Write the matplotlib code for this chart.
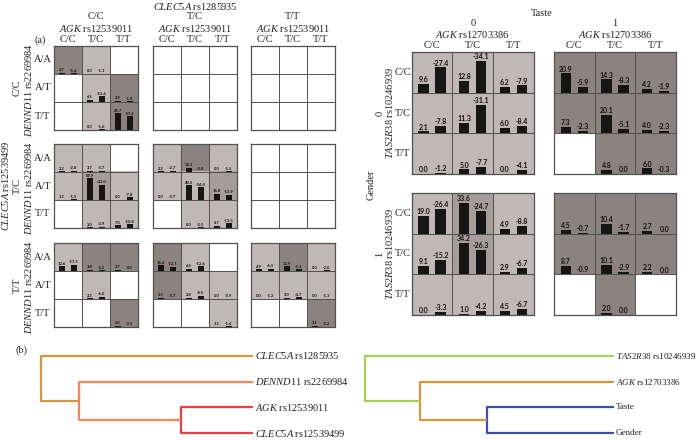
import numpy as np
import matplotlib
matplotlib.use('Agg')
import matplotlib.pyplot as plt
from matplotlib.colors import ListedColormap

nan = np.nan
W, H = 700, 440

genotypes = ['C/C', 'T/C', 'T/T']
dennd_genotypes = ['A/A', 'A/T', 'T/T']
binary_levels = ['0', '1']

# ---------------- panel (a), left: CLEC5A rs12539499 (rows) x CLEC5A rs1285935 (cols)
# shade: 0 white, 1 light, 2 medium, 3 dark
cc_cc_shade = [[3, 1, 0], [0, 1, 3], [0, 1, 3]]
cc_cc_v1 = [[2.7, 0.0, nan], [nan, 6.5, 2.9], [nan, 0.0, 45.7]]
cc_cc_v2 = [[-1.4, -1.1, nan], [nan, -15.6, -1.9], [nan, -1.6, -37.6]]

tc_cc_shade = [[1, 1, 0], [1, 2, 1], [0, 1, 1]]
tc_cc_v1 = [[2.2, 3.7, nan], [1.1, 59.9, 0.0], [nan, 2.0, 7.0]]
tc_cc_v2 = [[-2.8, -3.7, nan], [-1.5, -42.0, -7.8], [nan, -2.9, -10.8]]

tc_tc_shade = [[1, 3, 1], [1, 1, 2], [0, 1, 1]]
tc_tc_v1 = [[2.2, 12.1, 0.0], [0.0, 40.5, 16.8], [nan, 0.0, 6.7]]
tc_tc_v2 = [[-2.7, -0.8, -1.5], [-0.7, -34.8, -13.9], [nan, -2.5, -13.5]]

tt_cc_shade = [[1, 3, 3], [0, 1, 0], [0, 0, 3]]
tt_cc_v1 = [[12.6, 3.8, 2.7], [nan, 2.2, nan], [nan, nan, 3.0]]
tt_cc_v2 = [[-17.5, -2.2, 0.0], [nan, -6.0, nan], [nan, nan, -0.5]]

tt_tc_shade = [[3, 1, 0], [3, 1, 1], [0, 0, 1]]
tt_tc_v1 = [[16.4, 6.5, nan], [3.5, 2.8, 0.0], [nan, nan, 1.1]]
tt_tc_v2 = [[-12.1, -12.6, nan], [-0.7, -8.5, -0.9], [nan, nan, -1.6]]

tt_tt_shade = [[1, 3, 1], [1, 1, 1], [0, 0, 3]]
tt_tt_v1 = [[4.9, 12.9, 0.0], [0.0, 3.0, 0.0], [nan, nan, 3.1]]
tt_tt_v2 = [[-6.5, -5.1, -2.0], [-1.2, -4.7, -1.3], [nan, nan, -0.2]]

# ---------------- panel (a), right: Gender (rows) x Taste (cols)
g0_t0_shade = [[1, 1, 1], [1, 1, 1], [1, 1, 1]]
g0_t0_v1 = [[9.6, 12.8, 6.2], [2.1, 11.3, 6.0], [0.0, 5.0, 0.0]]
g0_t0_v2 = [[-27.4, -34.1, -7.9], [-7.8, -31.1, -8.4], [-1.2, -7.7, -4.1]]

g0_t1_shade = [[3, 3, 3], [3, 3, 3], [0, 3, 3]]
g0_t1_v1 = [[20.9, 14.3, 4.2], [7.3, 20.1, 4.0], [nan, 4.8, 6.0]]
g0_t1_v2 = [[-5.9, -8.3, -1.9], [-2.3, -5.1, -2.3], [nan, 0.0, -0.3]]

g1_t0_shade = [[1, 2, 1], [1, 2, 1], [1, 1, 1]]
g1_t0_v1 = [[19.0, 33.6, 4.9], [9.1, 34.2, 2.9], [0.0, 1.0, 4.5]]
g1_t0_v2 = [[-26.4, -24.7, -8.8], [-15.2, -26.3, -6.7], [-3.3, -4.2, -6.7]]

g1_t1_shade = [[3, 3, 3], [3, 3, 3], [0, 3, 0]]
g1_t1_v1 = [[4.5, 10.4, 2.7], [8.7, 10.1, 2.2], [nan, 2.0, nan]]
g1_t1_v2 = [[-0.7, -1.7, 0.0], [-0.9, -2.9, 0.0], [nan, 0.0, nan]]

# ---------------- panel (b): dendrograms
left_leaves = [r'$\mathit{CLEC5A}\ \mathrm{rs1285935}$', r'$\mathit{DENND11}\ \mathrm{rs2269984}$',
               r'$\mathit{AGK}\ \mathrm{rs12539011}$', r'$\mathit{CLEC5A}\ \mathrm{rs12539499}$']
left_merges = [(2, 3, 0.34), (1, 4, 0.82), (0, 5, 1.0)]
left_colors = ['#f03c3c', '#f4845e', '#d8963c']

right_leaves = [r'$\mathit{TAS2R38}\ \mathrm{rs10246939}$', r'$\mathit{AGK}\ \mathrm{rs12703386}$',
                'Taste', 'Gender']
right_merges = [(2, 3, 0.51), (1, 4, 0.78), (0, 5, 1.0)]
right_colors = ['#3c4fb0', '#d8963c', '#a8cf5a']

# ---------------- style
plt.rcParams['font.family'] = ['Liberation Serif', 'DejaVu Serif']
plt.rcParams['mathtext.fontset'] = 'custom'
plt.rcParams['mathtext.it'] = 'Liberation Serif:italic'
plt.rcParams['mathtext.rm'] = 'Liberation Serif'
TXT = '#222222'
GRIDC = '#505050'
cmap = ListedColormap(['#ffffff', '#bfb8b6', '#a69d9b', '#8c8381'])

fig = plt.figure(figsize=(7, 4.4), dpi=100)


def px_axes(x0, y0, x1, y1):
    return fig.add_axes([x0 / W, 1 - y1 / H, (x1 - x0) / W, (y1 - y0) / H])


def ftext(x, y, s, **kw):
    kw.setdefault('color', TXT)
    kw.setdefault('ha', 'center')
    kw.setdefault('va', 'center')
    fig.text(x / W, 1 - y / H, s, **kw)


def draw_grid(x0, y0, size, shade, v1, v2, vmax, fs, bw):
    ax = px_axes(x0, y0, x0 + size, y0 + size)
    sh = np.array(shade)
    a1 = np.array(v1, float)
    a2 = np.array(v2, float)
    ax.imshow(sh, cmap=cmap, vmin=-0.5, vmax=3.5, extent=(0, 3, 3, 0),
              aspect='auto', interpolation='nearest')
    ax.set_xlim(0, 3)
    ax.set_ylim(3, 0)
    for i in range(3):
        for j in range(3):
            for v, off in ((a1[i, j], 0.29), (a2[i, j], 0.71)):
                if np.isnan(v):
                    continue
                h = abs(v) / vmax
                ax.bar(j + off, -h, bottom=i + 1, width=bw, color='#151515', linewidth=0)
                ax.text(j + off, i + 1 - h - 0.02, f'{v:.1f}', ha='center', va='bottom',
                        fontsize=fs, fontweight='bold', family='Lato', color='#111111')
    for k in (1, 2):
        ax.axhline(k, color=GRIDC, lw=0.7)
        ax.axvline(k, color=GRIDC, lw=0.7)
    for sp in ax.spines.values():
        sp.set_color(GRIDC)
        sp.set_linewidth(0.9)
    ax.set_xticks([])
    ax.set_yticks([])
    return ax


# ---------------- left block
L_X = [54, 152.7, 250.7]
L_Y = [46, 144, 243]
L_S = 84
empty_shade = [[0] * 3 for _ in range(3)]
empty_v = [[nan] * 3 for _ in range(3)]
left_sub = {
    (0, 0): (cc_cc_shade, cc_cc_v1, cc_cc_v2),
    (1, 0): (tc_cc_shade, tc_cc_v1, tc_cc_v2),
    (1, 1): (tc_tc_shade, tc_tc_v1, tc_tc_v2),
    (2, 0): (tt_cc_shade, tt_cc_v1, tt_cc_v2),
    (2, 1): (tt_tc_shade, tt_tc_v1, tt_tc_v2),
    (2, 2): (tt_tt_shade, tt_tt_v1, tt_tt_v2),
}
for r in range(3):
    for c in range(3):
        shade, v1, v2 = left_sub.get((r, c), (empty_shade, empty_v, empty_v))
        draw_grid(L_X[c], L_Y[r], L_S, shade, v1, v2, 77.5, 3.0, 0.21)

ftext(195, 6, r'$\mathit{CLEC5A}\ \mathrm{rs1285935}$', fontsize=7.5)
for c in range(3):
    cx = L_X[c] + L_S / 2
    ftext(cx, 16.5, genotypes[c], fontsize=7.5)
    ftext(cx, 28, r'$\mathit{AGK}\ \mathrm{rs12539011}$', fontsize=7.5)
    for k in range(3):
        ftext(L_X[c] + L_S / 6 * (2 * k + 1), 40, genotypes[k], fontsize=7.5)
ftext(40, 40, '(a)', fontsize=7.5)
ftext(6, 186, r'$\mathit{CLEC5A}\ \mathrm{rs12539499}$', fontsize=7.5, rotation=90)
for r in range(3):
    cy = L_Y[r] + L_S / 2
    ftext(17.5, cy, genotypes[r], fontsize=7.5, rotation=90)
    ftext(28.5, cy + 2, r'$\mathit{DENND11}\ \mathrm{rs2269984}$', fontsize=7.5, rotation=90)
    for k in range(3):
        ftext(43, L_Y[r] + L_S / 6 * (2 * k + 1), dennd_genotypes[k], fontsize=7.5)

# ---------------- right block
R_X = [411.7, 554]
R_Y = [52, 193]
R_S = 122
right_sub = {
    (0, 0): (g0_t0_shade, g0_t0_v1, g0_t0_v2),
    (0, 1): (g0_t1_shade, g0_t1_v1, g0_t1_v2),
    (1, 0): (g1_t0_shade, g1_t0_v1, g1_t0_v2),
    (1, 1): (g1_t1_shade, g1_t1_v1, g1_t1_v2),
}
for (g, t), (shade, v1, v2) in right_sub.items():
    draw_grid(R_X[t], R_Y[g], R_S, shade, v1, v2, 44.0, 5.0, 0.25)

ftext(542, 14, 'Taste', fontsize=7.5)
for t in range(2):
    cx = R_X[t] + R_S / 2
    ftext(cx, 24, binary_levels[t], fontsize=7.5)
    ftext(cx, 34.5, r'$\mathit{AGK}\ \mathrm{rs12703386}$', fontsize=7.5)
    for k in range(3):
        ftext(R_X[t] + R_S / 6 * (2 * k + 1), 45, genotypes[k], fontsize=7.5)
ftext(371, 185, 'Gender', fontsize=7.5, rotation=90)
for g in range(2):
    cy = R_Y[g] + R_S / 2
    ftext(380, cy, binary_levels[g], fontsize=7.5, rotation=90)
    ftext(389.5, cy, r'$\mathit{TAS2R38}\ \mathrm{rs10246939}$', fontsize=7.5, rotation=90)
    for k in range(3):
        ftext(403, R_Y[g] + R_S / 6 * (2 * k + 1), genotypes[k], fontsize=7.5)

# ---------------- panel (b)
ftext(22, 350, '(b)', fontsize=7.5)


def dendro(x0, x1, leaves, merges, colors, fs):
    ax = px_axes(x0, 343.15, x1, 440)
    ax.set_xlim(1.0, 0.0)
    ax.set_ylim(3.27, -0.5)
    ax.axis('off')
    ypos = {i: float(i) for i in range(len(leaves))}
    hts = {i: 0.0 for i in range(len(leaves))}
    nid = len(leaves)
    for (a, b, h), col in zip(merges, colors):
        ax.plot([hts[a], h, h, hts[b]], [ypos[a], ypos[a], ypos[b], ypos[b]],
                color=col, lw=1.6, solid_capstyle='butt', clip_on=False)
        ypos[nid] = (ypos[a] + ypos[b]) / 2
        hts[nid] = h
        nid += 1
    for i, lab in enumerate(leaves):
        ax.text(-0.008, i, lab, ha='left', va='center', fontsize=fs, color=TXT)


dendro(41, 253, left_leaves, left_merges, left_colors, 7.5)
dendro(365, 614, right_leaves, right_merges, right_colors, 6.5)

fig.savefig('out.png', dpi=100)
